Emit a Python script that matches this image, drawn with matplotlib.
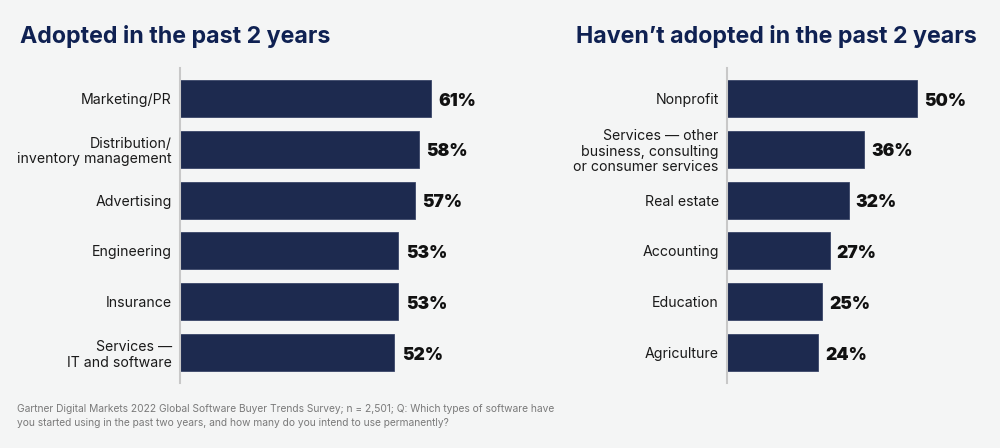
import matplotlib

matplotlib.use("Agg")
import matplotlib.pyplot as plt


ADOPTED_LABELS = [
    "Marketing/PR",
    "Distribution/\ninventory management",
    "Advertising",
    "Engineering",
    "Insurance",
    "Services —\nIT and software",
]
ADOPTED_VALUES = [61, 58, 57, 53, 53, 52]

NOT_ADOPTED_LABELS = [
    "Nonprofit",
    "Services — other\nbusiness, consulting\nor consumer services",
    "Real estate",
    "Accounting",
    "Education",
    "Agriculture",
]
NOT_ADOPTED_VALUES = [50, 36, 32, 27, 25, 24]

TITLES = ["Adopted in the past 2 years", "Haven\u2019t adopted in the past 2 years"]
FOOTNOTE = (
    "Gartner Digital Markets 2022 Global Software Buyer Trends Survey; n = 2,501; Q: Which types of software have\n"
    "you started using in the past two years, and how many do you intend to use permanently?"
)

BG = "#f4f5f5"
BAR = "#1d2a4f"
TITLE_COLOR = "#0f2152"

plt.rcParams["font.family"] = ["Inter", "DejaVu Sans"]

W, H = 1000, 448


def draw_panel(fig, rect, labels, values, xmax):
    ax = fig.add_axes(rect)
    ax.set_facecolor(BG)
    positions = list(range(len(values)))
    ax.barh(positions, values, height=0.73, color=BAR, edgecolor="#3a4668", linewidth=0.6)
    ax.set_ylim(len(values) - 0.4, -0.6)
    ax.set_xlim(0, xmax)
    ax.set_yticks(positions)
    ax.set_yticklabels(labels, fontsize=10.2, color="#1a1a1a", linespacing=1.15)
    ax.tick_params(axis="y", length=0, pad=6)
    ax.set_xticks([])
    for side in ["top", "right", "bottom"]:
        ax.spines[side].set_visible(False)
    ax.spines["left"].set_color("#c8c8c8")
    ax.spines["left"].set_linewidth(1.5)
    for pos, val in zip(positions, values):
        ax.text(val + xmax * 0.027, pos + 0.05, f"{val}%", va="center", ha="left",
                fontsize=12.5, fontweight="black", color="#111111")
    return ax


fig = plt.figure(figsize=(W / 100, H / 100), dpi=100)
fig.patch.set_facecolor(BG)

draw_panel(fig, [180 / W, 1 - 383 / H, 280 / W, 315 / H], ADOPTED_LABELS, ADOPTED_VALUES, 68)
draw_panel(fig, [727 / W, 1 - 383 / H, 255 / W, 315 / H], NOT_ADOPTED_LABELS, NOT_ADOPTED_VALUES, 67)

fig.text(20 / W, 1 - 37 / H, TITLES[0], fontsize=16.7, fontweight="bold", color=TITLE_COLOR, va="center")
fig.text(977 / W, 1 - 37 / H, TITLES[1], fontsize=16.7, fontweight="bold", color=TITLE_COLOR,
         va="center", ha="right")
fig.text(17 / W, 1 - 416 / H, FOOTNOTE, fontsize=7.35, color="#7a7a7a", va="center", linespacing=1.5)

fig.savefig("out.png", dpi=100, facecolor=BG)
plt.close(fig)
